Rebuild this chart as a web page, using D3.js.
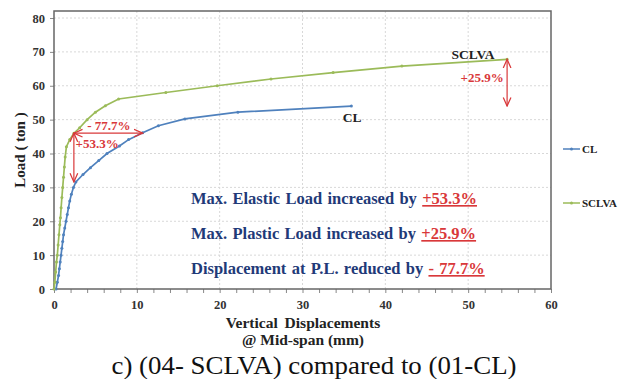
<!DOCTYPE html>
<html><head><meta charset="utf-8">
<script src="https://cdn.jsdelivr.net/npm/d3@7"></script>
<style>body{margin:0;background:#fff}svg{display:block}</style>
</head><body><svg id="c" width="622" height="379"></svg>
<script>
const xTicks=[0,10,20,30,40,50,60];
const yTicks=[0,10,20,30,40,50,60,70,80];
const clX=[0.25,0.4,0.55,0.65,0.75,0.85,0.95,1.05,1.15,1.3,1.45,1.6,1.75,1.9,2.1,2.35,2.64,3.5,4.4,5.4,6.4,7.9,9.0,10.7,12.6,15.8,22.2,35.9];
const clY=[0,2,4,6,8,10,12,14,16,18,20,22,24,26,28,30,31.6,33.8,35.8,37.9,40,42.2,44.1,46.1,48.2,50.2,52.2,54];
const sX=[0,0.1,0.2,0.3,0.4,0.5,0.6,0.7,0.78,0.86,0.95,1.05,1.15,1.25,1.35,1.5,1.9,2.4,3.1,4.0,5.0,6.2,7.8,13.5,19.7,26.2,33.7,42,54.7];
const sY=[0,2,5,8,10,13,16,19,21,24,27,30,33,36,39,42,44.1,46,47.6,50,52.2,54.1,56.1,58,60,62,63.9,65.8,67.8];
const seriesNames=["CL","SCLVA"];
const notes=[["Max. Elastic Load increased by ","+53.3%"],["Max. Plastic Load increased by ","+25.9%"],["Displacement at P.L. reduced by ","- 77.7%"]];

const svg=d3.select("#c");
const x=d3.scaleLinear().domain([0,60]).range([54,551]);
const y=d3.scaleLinear().domain([0,80]).range([289,18]);
const serif="'Liberation Serif','Times New Roman',serif";
const blue="#4f81bd", green="#9bbb59", red="#d9383a", navy="#1f3a78";

// grid
svg.append("g").selectAll("line").data(xTicks.slice(1,-1)).join("line")
 .attr("x1",d=>x(d)).attr("x2",d=>x(d)).attr("y1",11).attr("y2",289)
 .attr("stroke","#d8d8d8").attr("stroke-dasharray","2,2");
svg.append("g").selectAll("line").data(yTicks.slice(1)).join("line")
 .attr("x1",54).attr("x2",551).attr("y1",d=>y(d)).attr("y2",d=>y(d))
 .attr("stroke","#d8d8d8").attr("stroke-dasharray","2,2");

// axes
const xa=svg.append("g").attr("transform","translate(0,289)")
 .call(d3.axisBottom(x).tickValues(d3.range(0,61,2)).tickSize(4).tickFormat(d=>d%10===0?d:""));
const ya=svg.append("g").attr("transform","translate(54,0)")
 .call(d3.axisLeft(y).tickValues(yTicks).tickSize(4));
[xa,ya].forEach(a=>{a.select(".domain").remove();
 a.selectAll("line").attr("stroke","#888");
 a.selectAll("text").attr("font-family",serif).attr("font-weight","bold").attr("font-size",12.5).attr("fill","#333");});
xa.selectAll("text").attr("dy","1.05em");
ya.selectAll("text").attr("x",-9);
// frame
svg.append("rect").attr("x",54).attr("y",11).attr("width",497).attr("height",278)
 .attr("fill","none").attr("stroke","#666").attr("stroke-width",1.5);

// series
const line=d3.line().x(d=>x(d[0])).y(d=>y(d[1]));
function drawSeries(xs,ys,col){
 const pts=xs.map((v,i)=>[v,ys[i]]);
 svg.append("path").datum(pts).attr("d",line).attr("fill","none").attr("stroke",col).attr("stroke-width",1.7);
 svg.append("g").selectAll("circle").data(pts).join("circle")
  .attr("cx",d=>x(d[0])).attr("cy",d=>y(d[1])).attr("r",1.5).attr("fill",col);
}
drawSeries(clX,clY,blue);
drawSeries(sX,sY,green);

// arrows
const defs=svg.append("defs");
defs.append("marker").attr("id","ah").attr("viewBox","0 0 10 10").attr("refX",9).attr("refY",5)
 .attr("markerWidth",8).attr("markerHeight",8).attr("orient","auto-start-reverse")
 .append("path").attr("d","M0,1 L9,5 L0,9").attr("fill","none").attr("stroke",red).attr("stroke-width",1.3);
function arrow(x1,y1,x2,y2){
 svg.append("line").attr("x1",x(x1)).attr("y1",y(y1)).attr("x2",x(x2)).attr("y2",y(y2))
  .attr("stroke",red).attr("stroke-width",1.2).attr("marker-start","url(#ah)").attr("marker-end","url(#ah)");
}
arrow(2.4,46,10.7,46);
arrow(2.4,46,2.4,31.6);
arrow(54.7,67.8,54.7,54);
function rtext(t,px,py,anchor,col,size){
 svg.append("text").attr("x",px).attr("y",py).attr("text-anchor",anchor||"start")
  .attr("font-family",serif).attr("font-weight","bold").attr("font-size",size||13).attr("fill",col||red).text(t);
}
rtext("- 77.7%",x(4.0),y(46.8));
rtext("+53.3%",x(2.6),y(41.6));
rtext("+25.9%",x(54.3),y(61.2),"end");
rtext(seriesNames[1],x(48.0),y(68.0),"start","#222",13.5);
rtext(seriesNames[0],x(34.85),y(49.4),"start","#222",13.5);

// notes
notes.forEach((n,i)=>{
 const t=svg.append("text").attr("x",191).attr("y",204+i*35).attr("font-family",serif)
  .attr("font-weight","bold").attr("font-size",16.5).attr("fill",navy).attr("word-spacing",1.2);
 t.append("tspan").text(n[0]);
 t.append("tspan").attr("fill",red).attr("text-decoration","underline").text(n[1]);
});

// legend
[[seriesNames[0],blue,149],[seriesNames[1],green,203]].forEach(([n,c,ly])=>{
 svg.append("line").attr("x1",563).attr("x2",580).attr("y1",ly).attr("y2",ly).attr("stroke",c).attr("stroke-width",1.5);
 svg.append("circle").attr("cx",571.5).attr("cy",ly).attr("r",1.5).attr("fill",c);
 svg.append("text").attr("x",582).attr("y",ly+3.5).attr("font-family",serif).attr("font-weight","bold")
  .attr("font-size",11).attr("fill","#222").text(n);
});

// axis titles
svg.append("text").attr("transform","translate(25,150) rotate(-90)").attr("text-anchor","middle")
 .attr("font-family",serif).attr("font-weight","bold").attr("font-size",15).attr("fill","#222").text("Load ( ton )");
svg.append("text").attr("x",303).attr("y",328).attr("text-anchor","middle").attr("word-spacing",3)
 .attr("font-family",serif).attr("font-weight","bold").attr("font-size",15.5).attr("fill","#222").text("Vertical Displacements");
svg.append("text").attr("x",303).attr("y",345).attr("text-anchor","middle")
 .attr("font-family",serif).attr("font-weight","bold").attr("font-size",15.5).attr("fill","#222").text("@ Mid-span (mm)");
svg.append("text").attr("x",314).attr("y",374).attr("text-anchor","middle")
 .attr("textLength",405).attr("lengthAdjust","spacingAndGlyphs")
 .attr("font-family",serif).attr("font-size",25).attr("fill","#111").text("c) (04- SCLVA) compared to (01-CL)");
</script></body></html>
